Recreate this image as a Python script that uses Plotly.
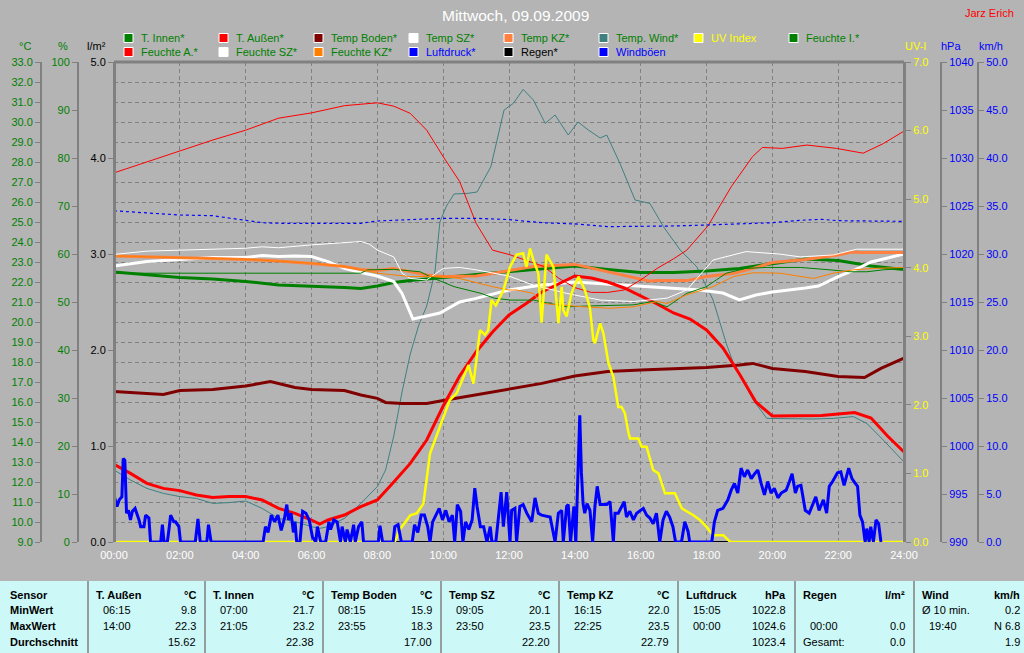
import plotly.graph_objects as go

# ---------------- data (hour of day, value) ----------------
HOURS = list(range(0, 25, 2))
HOUR_LABELS = [f"{h:02d}:00" for h in HOURS]

T_INNEN = [(0, 22.5), (1, 22.35), (2, 22.23), (3, 22.15), (4, 22.03), (5, 21.85), (6, 21.8), (7, 21.73),
           (7.5, 21.68), (8, 21.8), (8.5, 21.97), (9, 22.07), (10, 22.23), (11, 22.38), (12, 22.5),
           (13, 22.68), (14, 22.8), (15, 22.63), (16, 22.48), (17, 22.48), (18, 22.55), (19, 22.68),
           (20, 22.93), (21, 23.15), (22, 23.07), (23, 22.8), (24, 22.63)]

T_AUSSEN = [(0, 12.88), (0.5, 12.43), (1, 11.93), (1.5, 11.68), (2, 11.57), (2.5, 11.35), (3, 11.23),
            (3.5, 11.27), (4, 11.27), (4.5, 11.1), (5, 10.68), (5.5, 10.43), (6, 10.1), (6.25, 9.9),
            (6.5, 10.1), (7, 10.35), (7.5, 10.77), (8, 11.1), (8.5, 12.0), (9, 12.93), (9.5, 14.1),
            (10, 15.8), (10.5, 17.3), (11, 18.5), (11.5, 19.5), (12, 20.35), (12.5, 20.9), (13, 21.5),
            (13.5, 21.9), (14, 22.3), (14.5, 22.2), (15, 22.0), (15.5, 21.7), (16, 21.3), (16.5, 20.9),
            (17, 20.45), (17.5, 20.15), (18, 19.6), (18.5, 18.7), (19, 17.4), (19.5, 16.0), (20, 15.3),
            (20.5, 15.3), (21, 15.3), (21.5, 15.33), (22, 15.4), (22.5, 15.47), (23, 15.2), (23.5, 14.3),
            (24, 13.5)]

TEMP_BODEN = [(0, 16.52), (1, 16.43), (1.5, 16.38), (2, 16.57), (3, 16.63), (4, 16.8), (4.75, 17.02),
              (5.5, 16.73), (6, 16.63), (7, 16.57), (7.5, 16.35), (8, 16.18), (8.25, 15.98), (8.75, 15.93),
              (9.5, 15.93), (10, 16.07), (11, 16.35), (12, 16.65), (13, 16.93), (14, 17.3), (15, 17.52),
              (16, 17.6), (17, 17.65), (18, 17.72), (19, 17.85), (19.4, 17.93), (20, 17.68), (21, 17.52),
              (22, 17.27), (22.8, 17.22), (23.3, 17.68), (23.9, 18.13), (24, 18.2)]

TEMP_SZ = [(0, 22.8), (0.5, 22.9), (1, 23.02), (2, 23.13), (3, 23.23), (4, 23.23), (4.5, 23.32), (5, 23.27),
           (5.5, 23.3), (6, 23.27), (6.5, 23.02), (7, 22.68), (7.5, 22.47), (8, 22.3), (8.5, 22.02),
           (8.75, 21.43), (9.08, 20.15), (9.5, 20.3), (9.9, 20.45), (10.5, 21.0), (11, 21.18), (12, 21.6),
           (13, 21.85), (14, 22.0), (15, 21.9), (16, 21.77), (17, 21.68), (17.8, 21.6), (18.5, 21.45),
           (19, 21.1), (19.5, 21.35), (20, 21.5), (21, 21.7), (21.4, 21.8), (22, 22.27), (22.5, 22.6),
           (23, 23.0), (23.5, 23.2), (24, 23.4)]

TEMP_KZ = [(0, 23.3), (1, 23.27), (2, 23.22), (3, 23.18), (4, 23.13), (5, 23.05), (6, 22.93), (7, 22.77),
           (7.5, 22.63), (8, 22.57), (8.5, 22.68), (9, 22.52), (9.5, 22.35), (10, 22.27), (10.5, 22.27),
           (11, 22.3), (11.5, 22.43), (12, 22.57), (12.74, 22.77), (14, 22.88), (14.77, 22.6),
           (15.37, 22.35), (16, 22.13), (16.25, 22.05), (16.6, 22.07), (17.4, 22.07), (18, 22.27),
           (18.8, 22.43), (19.42, 22.68), (20, 22.97), (21, 23.13), (22, 23.35), (22.42, 23.5),
           (22.67, 23.47), (24, 23.47)]

TEMP_WIND = [(0, 12.6), (0.5, 12.1), (1, 11.68), (1.5, 11.43), (2, 11.27), (2.5, 11.18), (3, 10.93),
             (3.5, 10.97), (4, 11.05), (4.5, 10.68), (5, 10.18), (5.5, 10.02), (6, 9.77), (6.25, 9.68),
             (6.5, 9.77), (7, 10.18), (7.5, 10.93), (8, 11.77), (8.25, 12.6), (8.5, 14.3), (8.75, 16.5),
             (9.0, 18.4), (9.25, 19.8), (9.5, 20.8), (9.75, 22.5), (9.9, 25.0), (10.1, 25.8),
             (10.33, 26.4), (10.73, 26.43), (11.03, 26.5), (11.45, 27.77), (11.85, 30.6), (12.13, 30.93),
             (12.43, 31.63), (12.74, 31.1), (13.1, 29.93), (13.4, 30.35), (13.8, 29.35), (14.1, 30.0),
             (14.41, 29.6), (14.77, 29.2), (14.97, 29.35), (15.37, 27.93), (15.83, 26.1), (16.28, 25.93),
             (16.69, 24.77), (17.2, 23.6), (17.7, 22.77), (18.2, 21.1), (18.6, 18.93), (18.82, 17.93),
             (19.42, 16.1), (19.83, 15.18), (20.5, 15.15), (21.2, 15.15), (21.85, 15.18), (22.46, 15.27),
             (22.87, 14.93), (23.37, 14.1), (24, 13.0)]

UV_INDEX = [(0, 0), (8.53, 0), (8.68, 0.18), (8.79, 0.25), (9.0, 0.39), (9.2, 0.42), (9.4, 0.56), (9.6, 1.29),
            (9.9, 1.68), (10.2, 2.07), (10.41, 2.17), (10.61, 2.41), (10.77, 2.58), (10.92, 2.31),
            (11.02, 2.75), (11.12, 3.09), (11.27, 3.02), (11.37, 3.09), (11.47, 3.53), (11.6, 3.45),
            (11.83, 3.67), (12.03, 4.01), (12.23, 4.19), (12.43, 4.21), (12.53, 4.01), (12.64, 4.28),
            (12.74, 4.11), (12.89, 3.92), (12.99, 3.2), (13.14, 4.19), (13.35, 4.01), (13.5, 3.19),
            (13.6, 3.72), (13.65, 3.38), (13.75, 3.29), (13.9, 3.63), (14.11, 3.87), (14.31, 3.67),
            (14.46, 3.41), (14.56, 2.95), (14.61, 2.9), (14.77, 3.19), (14.87, 3.04), (15.02, 2.61),
            (15.17, 2.41), (15.32, 1.97), (15.42, 1.97), (15.52, 1.88), (15.63, 1.59), (15.68, 1.51),
            (15.93, 1.51), (16.03, 1.39), (16.18, 1.39), (16.38, 1.05), (16.54, 1.0), (16.74, 0.71),
            (17.04, 0.71), (17.25, 0.49), (17.6, 0.39), (17.8, 0.32), (18.0, 0.22), (18.2, 0.1),
            (18.51, 0.1), (18.72, 0), (24, 0)]

FEUCHTE_I = [(0, 56.0), (7.5, 56.0), (7.7, 56.7), (8.5, 56.8), (9.3, 56.3), (9.72, 54.9), (10.33, 53.2),
             (11.15, 51.8), (11.55, 50.8), (12.05, 50.4), (12.74, 50.4), (13.75, 49.0), (14.57, 49.2),
             (15.77, 49.4), (16.37, 50.1), (16.8, 49.0), (17.4, 51.8), (18, 53.2), (18.6, 56.0),
             (19.2, 57.0), (19.83, 57.2), (20.85, 57.2), (21.75, 56.7), (22.36, 56.3), (22.87, 56.3),
             (23.37, 56.7), (24, 57.0)]

FEUCHTE_A = [(0, 76.9), (1, 79.2), (2, 81.5), (3, 83.75), (4, 85.8), (5, 88.3), (6, 89.4), (7, 90.9),
             (7.5, 91.2), (8, 91.5), (8.5, 90.8), (9, 89.3), (9.5, 85.8), (10, 80.3), (10.5, 75.1),
             (11, 66.4), (11.5, 60.8), (12, 59.9), (13.06, 57.4), (13.5, 55.0), (14, 53.0), (14.5, 52.0),
             (15, 52.0), (15.5, 52.5), (16, 54.6), (16.5, 57.0), (17, 59.0), (17.4, 60.8), (18.05, 65.9),
             (18.75, 74.0), (19.4, 80.3), (19.7, 82.2), (20.3, 82.0), (21.05, 82.7), (21.95, 82.0),
             (22.76, 81.0), (23.37, 83.0), (24, 85.6)]

FEUCHTE_SZ = [(0, 59.9), (0.5, 60.3), (1, 60.6), (2, 60.8), (3, 61.0), (4, 61.2), (4.5, 61.5), (5, 61.3),
              (6, 61.9), (7, 62.4), (7.5, 62.6), (7.75, 62.1), (8, 60.8), (8.5, 59.4), (8.75, 56.0),
              (9, 54.9), (9.5, 54.6), (10, 57.0), (10.5, 57.2), (11, 56.7), (11.5, 56.0), (12, 55.4),
              (12.74, 53.5), (13.75, 51.8), (14.77, 50.4), (15.78, 50.1), (16.8, 50.8), (17.4, 52.5),
              (18.2, 58.75), (19.2, 60.5), (20.2, 60.0), (20.85, 59.4), (21.85, 59.8), (22.56, 61.0),
              (24, 61.0)]

FEUCHTE_KZ = [(0, 59.6), (2, 59.2), (4, 58.9), (6, 58.1), (7, 57.4), (7.5, 56.7), (8, 56.0), (9, 55.3),
              (10, 55.3), (10.5, 54.9), (11, 54.0), (11.5, 53.2), (12, 52.5), (12.23, 52.5), (12.74, 51.8),
              (13.0, 49.7), (14.27, 49.0), (15.07, 48.7), (15.78, 49.0), (16.5, 50.1), (16.8, 49.7),
              (17.4, 51.5), (18.2, 53.2), (18.82, 55.3), (19.42, 56.1), (20.23, 56.0), (21.25, 54.9),
              (21.85, 56.0), (22.46, 56.7), (23.07, 57.0), (24, 57.2)]

LUFTDRUCK = [(0, 1024.5), (0.5, 1024.4), (1, 1024.24), (2, 1024.06), (3, 1023.99), (4, 1023.47),
             (4.5, 1023.26), (5, 1023.2), (7.5, 1023.2), (8, 1023.44), (9, 1023.61), (10, 1023.72),
             (11, 1023.72), (12, 1023.58), (13, 1023.26), (14, 1023.13), (15, 1022.85), (16, 1022.85),
             (17, 1022.92), (18, 1023.02), (19, 1023.13), (20, 1023.26), (21, 1023.54), (21.5, 1023.61),
             (22, 1023.47), (23, 1023.4), (24, 1023.4)]

REGEN = [(0, 0.0), (24, 0.0)]

WINDBOEEN = [(0, 2.3), (0.02, 4.6), (0.09, 3.7), (0.16, 4.4), (0.24, 4.7), (0.28, 8.7), (0.33, 8.5),
             (0.38, 3.0), (0.44, 3.3), (0.5, 2.3), (0.56, 3.2), (0.64, 3.5), (0.76, 2.3), (0.81, 1.6),
             (0.91, 1.6), (0.96, 2.8), (1.06, 2.5), (1.11, 0), (1.42, 0), (1.47, 1.8), (1.52, 0), (1.62, 0),
             (1.67, 1.3), (1.72, 2.8), (1.82, 2.1), (1.87, 2.1), (1.97, 1.6), (2.02, 0), (2.47, 0),
             (2.55, 2.4), (2.62, 0), (2.82, 0), (2.87, 1.8), (2.95, 0), (4.53, 0), (4.6, 1.6), (4.68, 1.0),
             (4.78, 2.8), (4.88, 2.1), (4.98, 2.8), (5.08, 1.2), (5.18, 2.5), (5.25, 3.9), (5.3, 2.3),
             (5.38, 3.0), (5.45, 1.0), (5.5, 2.1), (5.55, 0), (5.65, 0), (5.73, 3.2), (5.83, 3.0),
             (5.93, 2.3), (6.03, 0.5), (6.13, 0), (6.18, 1.6), (6.28, 0), (6.43, 0), (6.53, 2.1),
             (6.58, 1.3), (6.68, 2.3), (6.78, 2.1), (6.88, 0), (6.93, 1.6), (7.03, 0), (7.08, 1.3),
             (7.18, 0), (7.28, 1.8), (7.33, 0), (7.43, 1.6), (7.53, 2.1), (7.58, 0), (8.03, 0), (8.08, 1.7),
             (8.16, 0), (8.48, 0), (8.53, 1.6), (8.63, 1.8), (8.73, 0), (9.06, 0), (9.13, 1.8), (9.23, 1.0),
             (9.33, 2.8), (9.43, 2.8), (9.53, 1.6), (9.6, 0), (9.68, 2.1), (9.78, 2.8), (9.88, 3.5),
             (9.98, 2.3), (10.08, 3.3), (10.18, 2.1), (10.28, 2.8), (10.35, 0), (10.43, 3.9), (10.53, 3.2),
             (10.6, 0), (10.68, 2.1), (10.78, 1.3), (10.88, 2.3), (10.96, 5.6), (11.03, 3.7), (11.13, 1.6),
             (11.23, 1.6), (11.33, 0), (11.43, 1.6), (11.48, 0), (11.6, 0), (11.68, 3.0), (11.76, 5.2),
             (11.83, 1.6), (11.93, 5.2), (12.03, 0), (12.08, 3.3), (12.18, 3.5), (12.23, 0), (12.33, 3.7),
             (12.43, 3.9), (12.54, 3.0), (12.69, 2.1), (12.79, 4.6), (12.89, 3.0), (12.99, 2.8),
             (13.25, 2.6), (13.4, 0), (13.5, 3.0), (13.6, 3.3), (13.65, 0), (13.75, 3.7), (13.8, 3.9),
             (13.87, 0), (13.97, 3.7), (14.03, 0), (14.1, 6.5), (14.15, 13.2), (14.2, 7.2), (14.25, 4.0),
             (14.3, 3.0), (14.37, 4.0), (14.46, 3.3), (14.54, 0), (14.61, 3.7), (14.68, 5.8), (14.77, 3.9),
             (14.97, 3.9), (15.07, 4.2), (15.17, 0), (15.22, 3.0), (15.32, 3.0), (15.5, 4.2), (15.57, 2.6),
             (15.67, 3.2), (15.78, 2.3), (15.88, 3.0), (16.08, 3.5), (16.18, 2.8), (16.28, 2.5),
             (16.38, 1.9), (16.48, 3.0), (16.58, 0), (16.68, 2.3), (16.78, 3.2), (16.88, 2.6), (16.98, 1.6),
             (17.06, 0), (17.24, 0), (17.34, 2.1), (17.44, 1.1), (17.49, 0), (18.16, 0), (18.24, 2.1),
             (18.34, 3.3), (18.5, 3.5), (18.65, 4.4), (18.75, 5.4), (18.85, 6.1), (18.95, 5.1), (19.05, 7.7),
             (19.15, 6.8), (19.25, 7.5), (19.36, 6.6), (19.46, 7.1), (19.56, 7.5), (19.66, 6.1),
             (19.76, 4.9), (19.86, 6.3), (19.96, 5.1), (20.06, 5.6), (20.17, 4.6), (20.27, 5.1),
             (20.42, 5.4), (20.52, 6.3), (20.6, 7.1), (20.7, 5.1), (20.77, 5.8), (20.87, 5.9), (21.0, 3.3),
             (21.12, 3.0), (21.22, 3.9), (21.32, 4.7), (21.42, 3.3), (21.55, 4.4), (21.65, 3.0),
             (21.73, 5.8), (21.83, 6.3), (21.98, 7.2), (22.08, 7.3), (22.18, 5.9), (22.32, 7.7),
             (22.42, 6.6), (22.52, 6.1), (22.59, 5.8), (22.66, 2.8), (22.74, 2.1), (22.82, 0), (22.87, 1.4),
             (22.94, 0), (22.99, 1.6), (23.07, 0), (23.15, 2.3), (23.23, 1.9), (23.3, 0)]

# summary table
ROW_LABELS = ["Sensor", "MinWert", "MaxWert", "Durchschnitt"]
TAB_SENSORS = ["T. Außen", "T. Innen", "Temp Boden", "Temp SZ", "Temp KZ", "Luftdruck", "Regen", "Wind"]
TAB_UNITS = ["°C", "°C", "°C", "°C", "°C", "hPa", "l/m²", "km/h"]
TAB_MIN_TIME = ["06:15", "07:00", "08:15", "09:05", "16:15", "15:05", "", "Ø 10 min."]
TAB_MIN_VAL = ["9.8", "21.7", "15.9", "20.1", "22.0", "1022.8", "", "0.2"]
TAB_MAX_TIME = ["14:00", "21:05", "23:55", "23:50", "22:25", "00:00", "00:00", "19:40"]
TAB_MAX_VAL = ["22.3", "23.2", "18.3", "23.5", "23.5", "1024.6", "0.0", "N 6.8"]
TAB_AVG_LABEL = ["", "", "", "", "", "", "Gesamt:", ""]
TAB_AVG_VAL = ["15.62", "22.38", "17.00", "22.20", "22.79", "1023.4", "0.0", "1.9"]

# ---------------- styling / layout ----------------
W, H = 1024, 653
PL, PR, PT, PB = 114, 904, 62, 542
FONT = "Liberation Sans, Arial, sans-serif"
BG = "#b4b4b4"
GRID = "#808080"
GREEN = "#008000"


def fx(x):
    return x / W


def fy(y):
    return 1 - (y - PT) / (PB - PT)


# name, data, axis, color, width, dash, legend row, legend col, legend text colour
SERIES = [
    ("Temp. Wind*", TEMP_WIND, "y", "#408080", 1, None, 0, 5, GREEN),
    ("T. Innen*", T_INNEN, "y", "#008000", 3, None, 0, 0, GREEN),
    ("Temp Boden*", TEMP_BODEN, "y", "#800000", 3, None, 0, 2, GREEN),
    ("Temp SZ*", TEMP_SZ, "y", "#ffffff", 3, None, 0, 3, GREEN),
    ("Temp KZ*", TEMP_KZ, "y", "#ff8040", 3, None, 0, 4, GREEN),
    ("T. Außen*", T_AUSSEN, "y", "#ff0000", 3, None, 0, 1, GREEN),
    ("Feuchte I.*", FEUCHTE_I, "y2", "#008000", 1, None, 0, 7, GREEN),
    ("Feuchte A.*", FEUCHTE_A, "y2", "#ff0000", 1, None, 1, 0, GREEN),
    ("Feuchte SZ*", FEUCHTE_SZ, "y2", "#ffffff", 1, None, 1, 1, GREEN),
    ("Feuchte KZ*", FEUCHTE_KZ, "y2", "#ff8000", 1, None, 1, 2, GREEN),
    ("Regen*", REGEN, "y3", "#000000", 2, None, 1, 4, "#000000"),
    ("UV Index", UV_INDEX, "y4", "#ffff00", 2.5, None, 0, 6, "#ffff00"),
    ("Luftdruck*", LUFTDRUCK, "y5", "#0000ff", 1.2, "3px,3px", 1, 3, "#0000ff"),
    ("Windböen", WINDBOEEN, "y6", "#0000ff", 3, None, 1, 5, "#0000ff"),
]

fig = go.Figure()
for name, data, ax, color, width, dash, _r, _c, _tc in SERIES:
    fig.add_trace(go.Scatter(
        x=[p[0] for p in data], y=[p[1] for p in data], name=name, mode="lines",
        line=dict(color=color, width=width, dash=dash), yaxis=ax, showlegend=False,
        hoverinfo="skip"))


def yax(rng, dtick, pos, side, color, fmt, lw=2, **kw):
    d = dict(range=rng, dtick=dtick, tick0=rng[0], anchor="free", position=pos, side=side,
             showline=True, linecolor=GRID, linewidth=lw, ticks="outside", ticklen=5,
             tickcolor=GRID, tickwidth=1, tickformat=fmt, showgrid=False, zeroline=False,
             automargin=False, fixedrange=True, domain=[0, 1],
             tickfont=dict(family=FONT, size=11, color=color))
    d.update(kw)
    return d


layout = dict(
    width=W, height=H, autosize=False,
    margin=dict(l=0, r=0, t=PT, b=H - PB, pad=0),
    paper_bgcolor=BG, plot_bgcolor=BG, showlegend=False,
    font=dict(family=FONT, size=11),
    xaxis=dict(domain=[fx(PL), fx(PR)], range=[0, 24], tickvals=HOURS, ticktext=HOUR_LABELS,
               showgrid=True, gridcolor=GRID, griddash="4px,3px", gridwidth=1, zeroline=False,
               showline=False, ticks="outside", ticklen=3, tickcolor="rgba(0,0,0,0)",
               tickfont=dict(family=FONT, size=11, color="#ffffff"), automargin=False, fixedrange=True),
    yaxis=yax([9, 33], 1, fx(41), "left", GREEN, ".1f", showgrid=True, gridcolor=GRID,
              griddash="4px,3px", gridwidth=1),
    yaxis2=yax([0, 100], 10, fx(78), "left", GREEN, "d", overlaying="y"),
    yaxis3=yax([0, 5], 1, fx(PL), "left", "#000000", ".1f", lw=3, overlaying="y"),
    yaxis4=yax([0, 7], 1, fx(PR), "right", "#ffff00", ".1f", lw=3, overlaying="y"),
    yaxis5=yax([990, 1040], 5, fx(941), "right", "#0000ff", "d", overlaying="y"),
    yaxis6=yax([0, 50], 5, fx(978), "right", "#0000ff", ".1f", overlaying="y"),
)
fig.update_layout(**layout)

shapes = []
annotations = []


def text(x, y, s, color="#000000", size=11, anchor="left", bold=False):
    annotations.append(dict(
        x=fx(x), y=fy(y), xref="paper", yref="paper", text=(f"<b>{s}</b>" if bold else s),
        showarrow=False, xanchor=anchor, yanchor="middle",
        font=dict(family=FONT, size=size, color=color)))


# top border of the plot frame
shapes.append(dict(type="line", xref="paper", yref="paper", x0=fx(PL), x1=fx(PR), y0=fy(PT), y1=fy(PT),
                   line=dict(color=GRID, width=3)))

# title and author
text(515, 16, "Mittwoch, 09.09.2009", "#ffffff", 15.5, "center")
text(1016, 13, "Jarz Erich", "#ff0000", 11, "right")

# axis unit labels
for x, s, c in [(25, "°C", GREEN), (63, "%", GREEN), (96, "l/m²", "#000000"),
                (915, "UV-I", "#ffff00"), (951, "hPa", "#0000ff"), (991, "km/h", "#0000ff")]:
    text(x, 46, s, c, 11, "center")

# custom legend
LEG_X0, LEG_DX, LEG_Y = 124, 95, [38, 52]
for name, _d, _a, color, _w, _dash, r, c, tcol in SERIES:
    x0 = LEG_X0 + c * LEG_DX
    yc = LEG_Y[r]
    shapes.append(dict(type="rect", xref="paper", yref="paper", x0=fx(x0), x1=fx(x0 + 9),
                       y0=fy(yc - 4.5), y1=fy(yc + 4.5), fillcolor=color,
                       line=dict(color="#ffffff", width=1)))
    text(x0 + 15, yc, name, tcol, 11, "left")

# summary table
TAB_TOP = 581
shapes.append(dict(type="rect", xref="paper", yref="paper", x0=0, x1=1, y0=fy(H), y1=fy(TAB_TOP),
                   fillcolor="#ccf8f8", line=dict(width=0), layer="above"))
COL_X = [88, 205, 323, 441, 559, 678, 795, 914]
ROW_Y = [595, 610, 626, 642]
for x in COL_X:
    shapes.append(dict(type="line", xref="paper", yref="paper", x0=fx(x), x1=fx(x), y0=fy(TAB_TOP),
                       y1=fy(H), line=dict(color="#808080", width=1.5)))
for lbl, y in zip(ROW_LABELS, ROW_Y):
    text(8, y, lbl, bold=True)
for i, sensor in enumerate(TAB_SENSORS):
    left = COL_X[i]
    right = COL_X[i + 1] - 7 if i + 1 < len(COL_X) else 1022
    text(left + 6, ROW_Y[0], sensor, bold=True)
    text(right, ROW_Y[0], TAB_UNITS[i], anchor="right", bold=True)
    for y, lab, val in [(ROW_Y[1], TAB_MIN_TIME[i], TAB_MIN_VAL[i]),
                        (ROW_Y[2], TAB_MAX_TIME[i], TAB_MAX_VAL[i]),
                        (ROW_Y[3], TAB_AVG_LABEL[i], TAB_AVG_VAL[i])]:
        if lab:
            off = 13 if lab[0].isdigit() else 6
            text(left + off, y, lab)
        if val:
            text(right, y, val, anchor="right")

fig.update_layout(shapes=shapes, annotations=annotations)

fig.write_html("out.html", config={"displayModeBar": False, "staticPlot": True},
               post_script="document.body.style.margin='0px';document.body.style.overflow='hidden';")
